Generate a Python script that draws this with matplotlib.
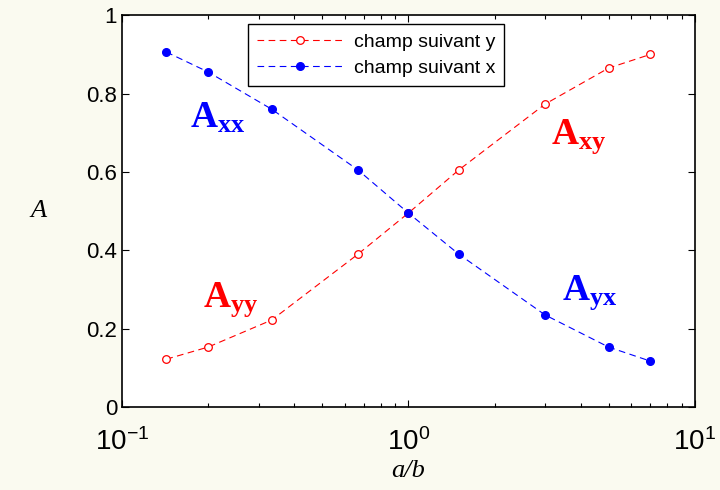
import matplotlib
matplotlib.use("Agg")
import matplotlib.pyplot as plt
from matplotlib.ticker import LogLocator, FixedLocator, NullFormatter

# donnees
rapport = [1/7, 1/5, 1/3, 2/3, 1, 1.5, 3, 5, 7]
champ_y = [0.122, 0.153, 0.222, 0.390, 0.495, 0.605, 0.773, 0.865, 0.900]
champ_x = [0.906, 0.855, 0.760, 0.605, 0.495, 0.390, 0.235, 0.153, 0.117]
yticks = [0, 0.2, 0.4, 0.6, 0.8, 1]
ytick_labels = ["0", "0.2", "0.4", "0.6", "0.8", "1"]
xticks = [0.1, 1, 10]
xtick_labels = [r"$\mathregular{10^{-1}}$", r"$\mathregular{10^{0}}$", r"$\mathregular{10^{1}}$"]

plt.rcParams["font.family"] = "Liberation Sans"
plt.rcParams["mathtext.fontset"] = "custom"
plt.rcParams["mathtext.rm"] = "Liberation Sans"
plt.rcParams["mathtext.bf"] = "Liberation Serif:bold"

fig = plt.figure(figsize=(7.2, 4.9), dpi=100, facecolor="#fafaf0")
ax = fig.add_axes([0.1694, 0.1694, 0.7956, 0.7996])
ax.set_facecolor("white")

ax.plot(rapport, champ_y, color="red", lw=0.8, dashes=(6, 4), marker="o",
        mfc="white", mec="red", ms=5.5, mew=0.9, label="champ suivant y")
ax.plot(rapport, champ_x, color="blue", lw=0.8, dashes=(6, 4), marker="o",
        mfc="blue", mec="blue", ms=5.5, label="champ suivant x")

ax.set_xscale("log")
ax.set_xlim(0.1, 10)
ax.set_ylim(0, 1)
ax.xaxis.set_major_locator(FixedLocator(xticks))
ax.set_xticklabels(xtick_labels)
ax.xaxis.set_minor_locator(LogLocator(base=10, subs=range(2, 10)))
ax.xaxis.set_minor_formatter(NullFormatter())
ax.set_yticks(yticks)
ax.set_yticklabels(ytick_labels)
ax.tick_params(which="both", direction="in", top=True, right=True, labelsize=16)
ax.tick_params(which="major", length=5, width=0.8)
ax.tick_params(which="minor", length=3, width=0.8)
ax.tick_params(axis="x", pad=15, labelsize=20)
for s in ax.spines.values():
    s.set_linewidth(1.2)

ax.set_xlabel("a/b", family="Liberation Serif", style="italic", fontsize=19, labelpad=3)
ax.set_ylabel("A", family="Liberation Serif", style="italic", fontsize=19, rotation=0, va="center")
ax.yaxis.set_label_coords(-0.145, 0.5)

# annotations
ax.text(0.173, 0.712, r"$\mathbf{A_{xx}}$", color="blue", fontsize=27, va="baseline")
ax.text(3.14, 0.673, r"$\mathbf{A_{xy}}$", color="red", fontsize=27, va="baseline")
ax.text(0.192, 0.255, r"$\mathbf{A_{yy}}$", color="red", fontsize=27, va="baseline")
ax.text(3.43, 0.273, r"$\mathbf{A_{yx}}$", color="blue", fontsize=27, va="baseline")

leg = ax.legend(loc="upper left", bbox_to_anchor=(0.22, 0.977), borderaxespad=0,
                fontsize=14, handlelength=4.4, handletextpad=0.6, fancybox=False,
                framealpha=1, edgecolor="black", borderpad=0.45, labelspacing=0.45)
leg.get_frame().set_linewidth(1.0)

plt.savefig("out.png", dpi=100, facecolor=fig.get_facecolor())
